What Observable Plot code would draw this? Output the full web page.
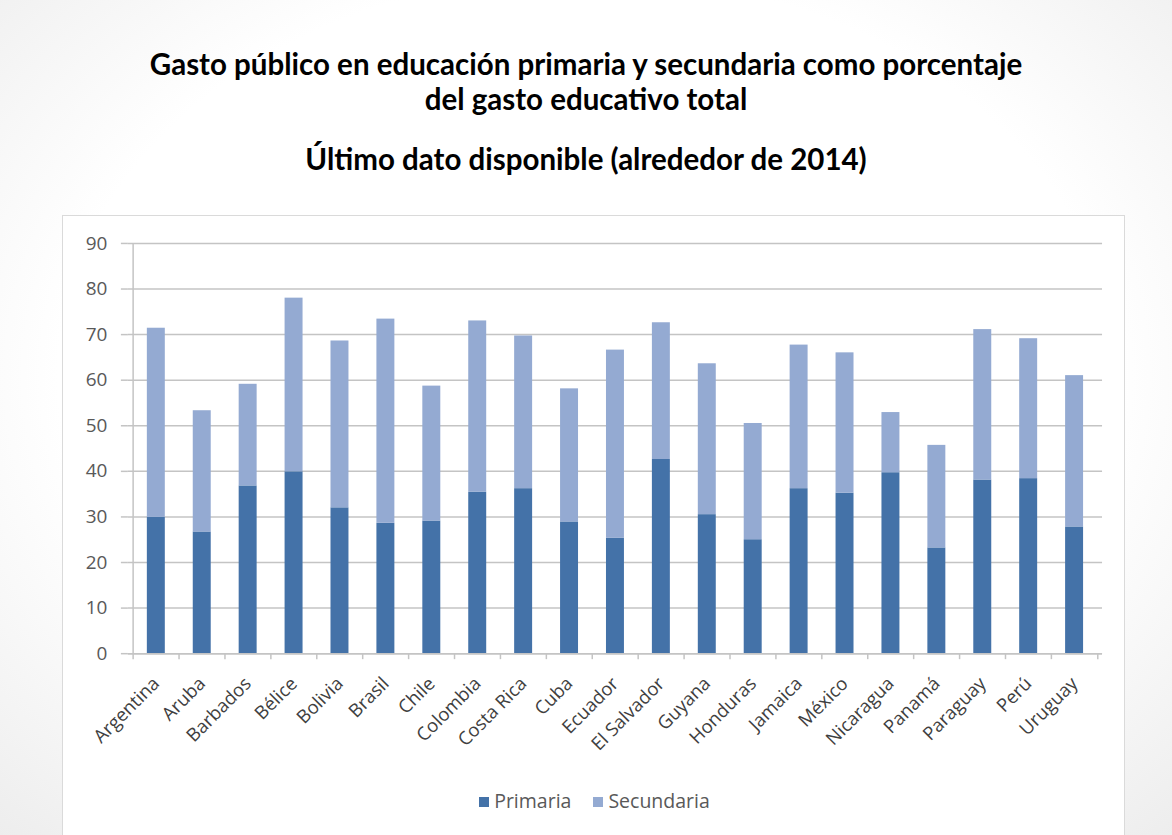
<!DOCTYPE html>
<html>
<head>
<meta charset="utf-8">
<script src="https://cdn.jsdelivr.net/npm/d3@7"></script>
<script src="https://cdn.jsdelivr.net/npm/@observablehq/plot@0.6"></script>
<style>
  html, body { margin:0; padding:0; }
  body {
    width:1172px; height:835px; overflow:hidden; position:relative;
    background: radial-gradient(ellipse 75% 80% at 50% 45%, #ffffff 60%, #ebebeb 100%);
    font-family: Lato, "Open Sans", sans-serif;
  }
  .t {
    position:absolute; left:0; width:1172px; text-align:center;
    font-weight:bold; font-size:29.5px; line-height:29px; color:#000; white-space:nowrap;
  }
  #t1 { top:49px; }
  #t2 { top:84px; }
  #subtitle { top:144px; }
  #box {
    position:absolute; left:62px; top:215px; width:1063px; height:625px;
    background:#fff; border:1px solid #dadada; box-sizing:border-box;
  }
  #chart { position:absolute; left:0; top:0; }
  #legend {
    position:absolute; left:0; width:1063px; top:571px; text-align:center;
    font-family: "Open Sans", sans-serif; font-size:19.5px; color:#595959; white-space:nowrap;
  }
  #legend span.item { display:inline-block; margin:0 11px; }
  #legend span.sw { display:inline-block; width:10px; height:10px; margin-right:5px; vertical-align:middle; position:relative; top:-1px; }
</style>
</head>
<body>
<div class="t" id="t1">Gasto público en educación primaria y secundaria como porcentaje</div>
<div class="t" id="t2">del gasto educativo total</div>
<div class="t" id="subtitle">Último dato disponible (alrededor de 2014)</div>
<div id="box">
  <div id="chart"></div>
  <div id="legend"></div>
</div>
<script>
const countries = ["Argentina","Aruba","Barbados","Bélice","Bolivia","Brasil","Chile","Colombia","Costa Rica","Cuba","Ecuador","El Salvador","Guyana","Honduras","Jamaica","México","Nicaragua","Panamá","Paraguay","Perú","Uruguay"];
const primaria   = [29.9, 26.7, 36.8, 39.9, 32.0, 28.6, 29.1, 35.4, 36.2, 28.9, 25.3, 42.6, 30.5, 25.0, 36.2, 35.2, 39.7, 23.2, 38.1, 38.4, 27.8];
const secundaria = [41.5, 26.6, 22.3, 38.1, 36.6, 44.8, 29.6, 37.6, 33.5, 29.2, 41.3, 30.0, 33.1, 25.5, 31.5, 30.8, 13.2, 22.5, 33.0, 30.7, 33.2];
const series = ["Primaria", "Secundaria"];
const colors = ["#4472a8", "#94aad2"];
const yTicks = [0, 10, 20, 30, 40, 50, 60, 70, 80, 90];

const data = countries.flatMap((c, i) => [
  {country: c, serie: series[0], value: primaria[i]},
  {country: c, serie: series[1], value: secundaria[i]}
]);

const W = 1063, H = 555, ML = 65, MR = 22, MT = 27, MB = 117;
const step = (W - ML - MR) / countries.length;
const gridColor = "#c4c4c4";

const chart = Plot.plot({
  width: W, height: H,
  marginLeft: ML, marginRight: MR, marginTop: MT, marginBottom: MB,
  style: {fontFamily: "'Open Sans', sans-serif", background: "transparent", overflow: "visible"},
  x: {domain: countries, padding: 0, label: null},
  y: {domain: [0, 90], label: null},
  color: {domain: series, range: colors},
  marks: [
    Plot.gridY(yTicks, {stroke: gridColor, strokeOpacity: 1, strokeWidth: 1.5}),
    Plot.axisY(yTicks, {tickSize: 7, tickPadding: 14, stroke: gridColor, strokeWidth: 1.5, fontSize: 19, fill: "#595959", label: null}),
    Plot.ruleX([countries[0]], {dx: -step / 2, stroke: gridColor, strokeWidth: 1.5}),
    Plot.barY(data, {x: "country", y: "value", fill: "serie", insetLeft: 14, insetRight: 14}),
    Plot.ruleY([0], {stroke: gridColor, strokeWidth: 1.5}),
    Plot.axisX({tickSize: 6, tickFormat: () => "", dx: -step / 2, stroke: gridColor, strokeWidth: 1.5, label: null}),
    Plot.axisX([countries[countries.length - 1]], {tickSize: 6, tickFormat: () => "", dx: step / 2, stroke: gridColor, strokeWidth: 1.5, label: null}),
    Plot.axisX({tickSize: 0, tickPadding: 27, tickRotate: -45, fontSize: 18.5, fill: "#404040", label: null})
  ]
});
document.getElementById("chart").appendChild(chart);

const legend = document.getElementById("legend");
series.forEach((s, i) => {
  const item = document.createElement("span");
  item.className = "item";
  const sw = document.createElement("span");
  sw.className = "sw";
  sw.style.background = colors[i];
  item.appendChild(sw);
  item.appendChild(document.createTextNode(s));
  legend.appendChild(item);
});
</script>
</body>
</html>
